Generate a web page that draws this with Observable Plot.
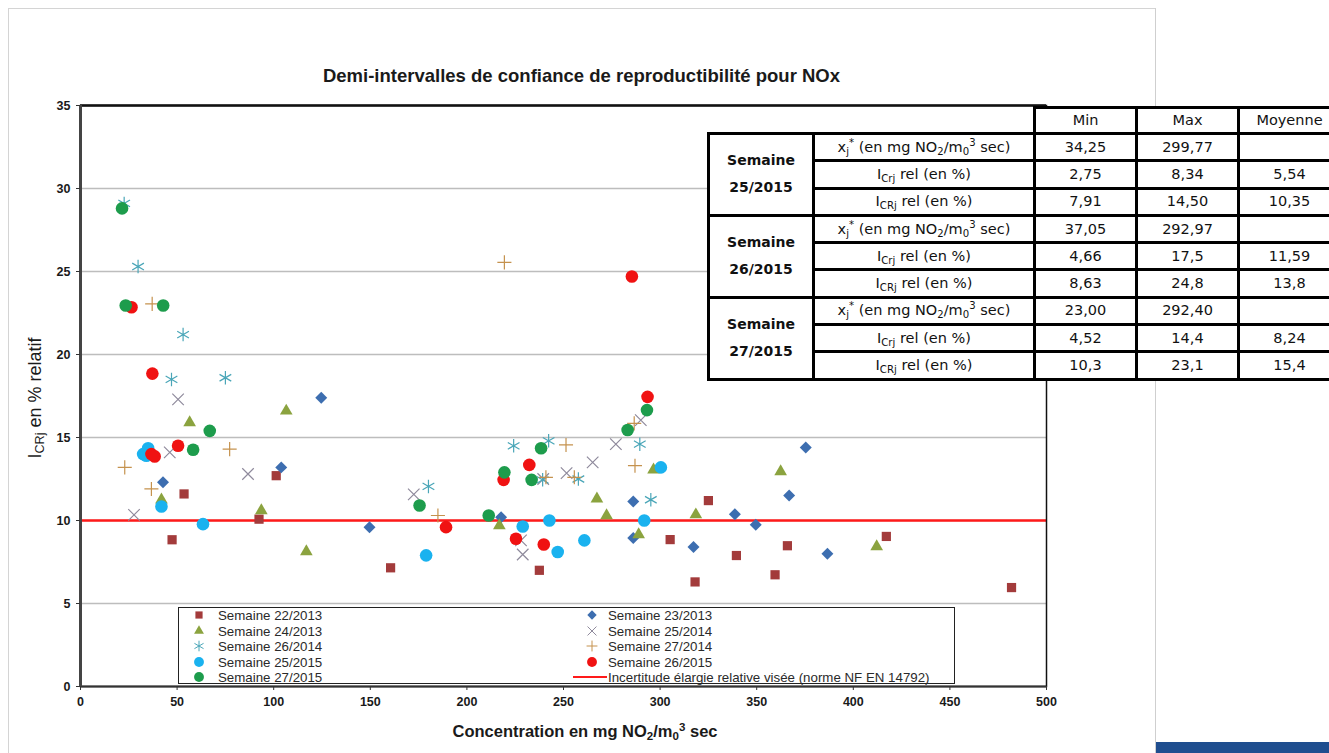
<!DOCTYPE html>
<html><head><meta charset="utf-8">
<script src="https://cdn.jsdelivr.net/npm/d3@7"></script>
<script src="https://cdn.jsdelivr.net/npm/@observablehq/plot@0.6"></script>
<style>
html,body{margin:0;padding:0;background:#fff;overflow:hidden;}
#wrap{position:relative;width:1329px;height:753px;overflow:hidden;font-family:"Liberation Sans",Arial,sans-serif;color:#1a1a1a;background:#fff;}
#wrap > svg{position:absolute;left:0;top:0;}
.abs{position:absolute;white-space:nowrap;}
.sb{font-size:70%;vertical-align:-0.3em;line-height:0;}
.sp{font-size:70%;vertical-align:0.55em;line-height:0;}
#title{font-weight:bold;font-size:18.5px;left:0;width:1163px;text-align:center;top:65px;}
#xtitle{font-weight:bold;font-size:16.5px;left:0;width:1170px;text-align:center;top:722px;}
#ytitle{font-size:18px;left:35px;top:398px;transform:translate(-50%,-50%) rotate(-90deg);}
#legend{position:absolute;left:178px;top:607px;width:777px;height:77px;border:1.3px solid #222;background:#fff;box-sizing:border-box;}
.lgt{font-size:13.3px;color:#2a2a2a;transform:translateY(-50%);}
#tbl{position:absolute;left:707px;top:106px;border-collapse:collapse;table-layout:fixed;width:632px;font-family:"DejaVu Sans",Verdana,sans-serif;font-size:14.5px;color:#111;}
#tbl td{border:3px solid #000;padding:0 1px;text-align:center;vertical-align:middle;background:#fff;height:21px;line-height:15px;overflow:hidden;white-space:nowrap;}
#tbl td.blank{border-top:none;border-left:none;background:transparent;}
#tbl td.grp{font-weight:bold;font-size:14px;line-height:27px;}
#tbl tr{height:27.3px;}
.frameL{position:absolute;left:8px;top:8px;width:0;height:760px;border-left:1px solid #d4d4d4;}
.frameT{position:absolute;left:8px;top:8px;width:1147px;height:0;border-top:1px solid #d4d4d4;}
.frameR{position:absolute;left:1155px;top:8px;width:0;height:760px;border-left:1px solid #cfcfcf;}
.bar{position:absolute;left:1156px;top:742px;width:180px;height:12px;background:#1f4e8f;}
</style></head>
<body><div id="wrap"></div>
<script>
// ---------- data ----------
const xTicks = [0,50,100,150,200,250,300,350,400,450,500];
const yTicks = [0,5,10,15,20,25,30,35];
const targetLevel = 10;

const sem22_2013 = [[47.4,8.84],[53.6,11.6],[92.4,10.08],[101.3,12.7],[160.5,7.15],[237.5,7.0],[305.2,8.85],[318.1,6.3],[325,11.2],[339.5,7.89],[359.5,6.73],[365.9,8.48],[417.1,9.04],[481.9,5.96]];
const sem23_2013 = [[42.7,12.3],[103.9,13.2],[124.6,17.4],[149.6,9.6],[217.7,10.2],[286.1,11.15],[286.1,8.95],[317.3,8.4],[338.7,10.38],[349.5,9.74],[366.8,11.5],[375.4,14.4],[386.6,7.99]];
const sem24_2013 = [[41.9,11.25],[56.5,15.9],[93.6,10.6],[106.5,16.6],[116.9,8.13],[216.8,9.7],[267.3,11.3],[272.3,10.3],[288.9,9.15],[296.6,13.05],[318.5,10.35],[362.4,12.95],[412.1,8.43]];
const sem25_2014 = [[27.7,10.34],[46.2,14.1],[50.5,17.3],[86.7,12.8],[172.5,11.57],[228,8.8],[228.9,7.95],[239.5,12.5],[251.6,12.85],[265.1,13.5],[277.1,14.6],[290,16.05]];
const sem26_2014 = [[22.6,29.1],[29.8,25.3],[53.1,21.2],[47.1,18.5],[75.0,18.6],[180.1,12.05],[224.2,14.5],[242.3,14.8],[239.2,12.45],[257.7,12.5],[289.5,14.6],[295.2,11.25]];
const sem27_2014 = [[22.9,13.2],[36.7,11.9],[37.1,23.05],[77.2,14.3],[185,10.3],[219.4,25.55],[240.9,12.6],[251.3,14.55],[255.6,12.6],[286.6,15.85],[287,13.3]];
const sem25_2015 = [[32.4,14.0],[34.1,13.9],[35,14.35],[41.9,10.84],[63.4,9.78],[178.9,7.9],[228.9,9.64],[242.7,10.0],[247,8.1],[260.8,8.8],[291.8,10.0],[300.4,13.2]];
const sem26_2015 = [[26.4,22.85],[36.7,14.0],[38.4,13.86],[37.2,18.85],[50.5,14.5],[189.2,9.6],[219,12.45],[225.4,8.9],[232.3,13.35],[239.8,8.55],[285.4,24.7],[293.5,17.45]];
const sem27_2015 = [[21.5,28.8],[23.4,22.95],[42.8,22.95],[58.3,14.26],[66.9,15.4],[175.5,10.9],[211.3,10.3],[219.4,12.9],[233.5,12.45],[238.4,14.35],[283.2,15.45],[293.2,16.65]];

const seriesNames = ["Semaine 22/2013","Semaine 23/2013","Semaine 24/2013","Semaine 25/2014","Semaine 26/2014","Semaine 27/2014","Semaine 25/2015","Semaine 26/2015","Semaine 27/2015"];
const lineName = "Incertitude élargie relative visée (norme NF EN 14792)";

const tableCols = ["Min","Max","Moyenne"];
const tableGroups = [["Semaine","25/2015"],["Semaine","26/2015"],["Semaine","27/2015"]];
const tableRowLabels = [
  'x<span class="sb">j</span><span class="sp">*</span> (en mg NO<span class="sb">2</span>/m<span class="sb">0</span><span class="sp">3</span> sec)',
  'I<span class="sb">Crj</span> rel (en %)',
  'I<span class="sb">CRj</span> rel (en %)'
];
const table25_2015 = [["34,25","299,77",""],["2,75","8,34","5,54"],["7,91","14,50","10,35"]];
const table26_2015 = [["37,05","292,97",""],["4,66","17,5","11,59"],["8,63","24,8","13,8"]];
const table27_2015 = [["23,00","292,40",""],["4,52","14,4","8,24"],["10,3","23,1","15,4"]];

// ---------- styles per series ----------
const seriesData = [sem22_2013,sem23_2013,sem24_2013,sem25_2014,sem26_2014,sem27_2014,sem25_2015,sem26_2015,sem27_2015];
const seriesSymbol = ["square","diamond2","triangle","times","asterisk","plus","circle","circle","circle"];
const seriesColor = ["#a33b3b","#3d6eb0","#8ba33f","#8f8a9c","#4aa6b8","#c5924e","#1ab2ef","#f01212","#1d9c4c"];
const seriesFilled = [true,true,true,false,false,false,true,true,true];
const seriesR = [5.2,5.4,4.7,5.3,6.4,4.6,6.3,6.3,6.3];
const lineColor = "#ff1a1a";

const wrap = document.getElementById("wrap");

const marks = [
  Plot.gridY(yTicks.filter(d => d > 0 && d < 35), {stroke:"#bdbdbd", strokeOpacity:1, strokeWidth:1.3}),
  Plot.ruleY([targetLevel], {stroke:lineColor, strokeWidth:2.4}),
  ...seriesData.map((data,i) => Plot.dot(data, {
    x: d => d[0], y: d => d[1],
    symbol: seriesSymbol[i], r: seriesR[i],
    fill: seriesFilled[i] ? seriesColor[i] : "none",
    stroke: seriesFilled[i] ? "none" : seriesColor[i],
    strokeWidth: 1.2
  })),
  Plot.frame({stroke:"#111", strokeWidth:1.5}),
  Plot.ruleY([35], {stroke:"#111", strokeWidth:2.6}),
  Plot.ruleY([0], {stroke:"#333", strokeWidth:2}),
  Plot.ruleX([0], {stroke:"#444", strokeWidth:3}),
  Plot.axisX({ticks:xTicks, tickSize:4, tickPadding:7, label:null, stroke:"#333"}),
  Plot.axisY({ticks:yTicks, tickSize:4, tickPadding:6, label:null, stroke:"#333"})
];

const chart = Plot.plot({
  width:1329, height:753,
  marginLeft:80, marginRight:283, marginTop:105, marginBottom:67,
  x:{domain:[0,500]},
  y:{domain:[0,35]},
  style:{fontFamily:'"Liberation Sans",Arial,sans-serif', fontSize:"12.5px", fontWeight:"bold", color:"#1a1a1a", background:"transparent", overflow:"visible"},
  marks
});
wrap.appendChild(chart);

// frame of the slide
for (const c of ["frameL","frameT","frameR","bar"]) {
  const d = document.createElement("div"); d.className = c; wrap.appendChild(d);
}

function addText(id, html) {
  const d = document.createElement("div");
  d.id = id; d.className = "abs"; d.innerHTML = html; wrap.appendChild(d); return d;
}
addText("title","Demi-intervalles de confiance de reproductibilité pour NOx");
addText("xtitle",'Concentration en mg NO<span class="sb">2</span>/m<span class="sb">0</span><span class="sp">3</span> sec');
addText("ytitle",'I<span class="sb">CRj</span> en % relatif');

// legend
const legend = document.createElement("div"); legend.id = "legend"; wrap.appendChild(legend);
const symMap = {square:d3.symbolSquare, diamond2:d3.symbolDiamond2, triangle:d3.symbolTriangle, times:d3.symbolTimes, asterisk:d3.symbolAsterisk, plus:d3.symbolPlus, circle:d3.symbolCircle};
const legendOrder = [0,2,4,6,8,1,3,5,7];
const rowY = [615,630.5,646,661.5,677];
legendOrder.forEach((si, k) => {
  const col = k < 5 ? 0 : 1, row = k < 5 ? k : k - 5;
  const cx = col === 0 ? 199 : 591.5, tx = col === 0 ? 218 : 608;
  const cy = rowY[row];
  const r = seriesR[si] * 0.78;
  const path = d3.symbol(symMap[seriesSymbol[si]], Math.PI * r * r)();
  const s = document.createElementNS("http://www.w3.org/2000/svg","svg");
  s.setAttribute("width",20); s.setAttribute("height",20);
  s.style.position="absolute"; s.style.left=(cx-10)+"px"; s.style.top=(cy-10)+"px";
  const p = document.createElementNS("http://www.w3.org/2000/svg","path");
  p.setAttribute("d",path); p.setAttribute("transform","translate(10,10)");
  p.setAttribute("fill", seriesFilled[si] ? seriesColor[si] : "none");
  p.setAttribute("stroke", seriesFilled[si] ? "none" : seriesColor[si]);
  p.setAttribute("stroke-width", 1);
  s.appendChild(p); wrap.appendChild(s);
  const t = document.createElement("div"); t.className="abs lgt";
  t.style.left = tx+"px"; t.style.top = cy+"px"; t.textContent = seriesNames[si];
  wrap.appendChild(t);
});
{
  const l = document.createElement("div");
  l.style.cssText = `position:absolute;left:573px;top:676px;width:34px;height:0;border-top:2px solid ${lineColor};`;
  wrap.appendChild(l);
  const t = document.createElement("div"); t.className="abs lgt";
  t.style.left="608px"; t.style.top=rowY[4]+"px"; t.textContent = lineName; wrap.appendChild(t);
}

// table
const tbl = document.createElement("table"); tbl.id = "tbl";
const cg = document.createElement("colgroup");
[105,221,102,102,102].forEach(w => { const c = document.createElement("col"); c.style.width = w+"px"; cg.appendChild(c); });
tbl.appendChild(cg);
let html = '<tr style="height:26px"><td class="blank" colspan="2"></td>' + tableCols.map(c => `<td>${c}</td>`).join("") + '</tr>';
[table25_2015, table26_2015, table27_2015].forEach((vals, g) => {
  vals.forEach((row, i) => {
    html += "<tr>";
    if (i === 0) html += `<td class="grp" rowspan="3">${tableGroups[g][0]}<br>${tableGroups[g][1]}</td>`;
    html += `<td>${tableRowLabels[i]}</td>` + row.map(v => `<td>${v}</td>`).join("");
    html += "</tr>";
  });
});
tbl.innerHTML += html;
wrap.appendChild(tbl);
</script>
</body></html>
